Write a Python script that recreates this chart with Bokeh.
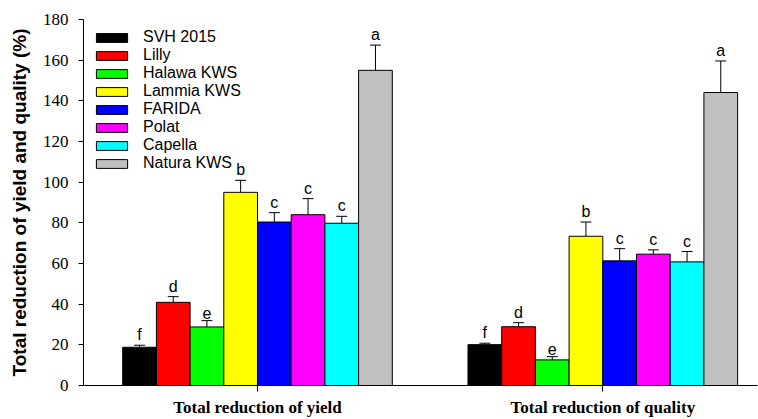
from bokeh.plotting import figure
from bokeh.models import (ColumnDataSource, Whisker, TeeHead, Legend, LegendItem,
                          FixedTicker, Range1d)
from bokeh.core.properties import value
from bokeh.embed import file_html
from bokeh.resources import INLINE

# ---------------- data ----------------
cultivars = ["SVH 2015", "Lilly", "Halawa KWS", "Lammia KWS",
             "FARIDA", "Polat", "Capella", "Natura KWS"]
colors = ["#000000", "#FF0000", "#00FF00", "#FFFF00",
          "#0000FF", "#FF00FF", "#00FFFF", "#C0C0C0"]
groups = ["Total reduction of yield", "Total reduction of quality"]
group_pos = [1, 2]

yield_mean = [18.8, 40.9, 28.8, 95.0, 80.4, 84.0, 79.8, 155.0]
yield_err = [1.0, 2.8, 3.1, 5.9, 4.6, 7.9, 3.4, 12.4]
yield_letters = ["f", "d", "e", "b", "c", "c", "c", "a"]

quality_mean = [20.1, 28.9, 12.6, 73.4, 61.3, 64.6, 60.8, 144.1]
quality_err = [0.7, 2.0, 1.6, 7.0, 6.0, 2.1, 5.1, 15.5]
quality_letters = ["f", "d", "e", "b", "c", "c", "c", "a"]

y_ticks = [0, 20, 40, 60, 80, 100, 120, 140, 160, 180]

# ---------------- figure ----------------
bar_w = 0.0976
p = figure(width=758, height=419, output_backend="svg", toolbar_location=None,
           x_range=Range1d(0.4961, 2.448), y_range=Range1d(0, 180),
           min_border_left=83, min_border_right=1, min_border_top=19,
           min_border_bottom=33)
p.outline_line_color = None
p.grid.visible = False
p.background_fill_color = "white"
p.border_fill_color = "white"

items = []
for i, name in enumerate(cultivars):
    off = (i - 3.5) * bar_w
    xs = [g + off for g in group_pos]
    tops = [yield_mean[i], quality_mean[i]]
    uppers = [yield_mean[i] + yield_err[i], quality_mean[i] + quality_err[i]]
    letters = [yield_letters[i], quality_letters[i]]
    src = ColumnDataSource(dict(x=xs, top=tops, upper=uppers, letter=letters))
    r = p.vbar(x="x", top="top", bottom=0, width=bar_w, source=src,
               fill_color=colors[i], line_color="black", line_width=1)
    items.append(LegendItem(label=name, renderers=[r]))
    w = Whisker(base="x", lower="top", upper="upper", source=src,
                lower_head=None,
                upper_head=TeeHead(size=11, line_color="black", line_width=1),
                line_color="black", line_width=1)
    p.add_layout(w)
    p.text(x="x", y="upper", text="letter", source=src, text_align="center",
           text_baseline="bottom", y_offset=-2,
           text_font=value("Liberation Sans"), text_font_size="16px",
           text_color="black")

legend = Legend(items=items, location="top_left", margin=0, padding=9,
                spacing=0, glyph_width=39, glyph_height=11, label_height=18,
                label_standoff=12, label_text_font="Liberation Sans",
                label_text_font_size="16px", label_text_color="black",
                background_fill_alpha=0, border_line_alpha=0)
p.add_layout(legend, "center")

# y axis
ya = p.yaxis[0]
ya.ticker = FixedTicker(ticks=y_ticks)
ya.minor_tick_line_color = None
ya.major_tick_in = 0
ya.major_tick_out = 5
ya.major_label_standoff = 10
ya.major_label_text_font = "Liberation Serif"
ya.major_label_text_font_size = "17px"
ya.major_label_text_color = "black"
ya.axis_line_color = "black"
ya.major_tick_line_color = "black"
ya.axis_label = "Total reduction of yield and quality (%)"
ya.axis_label_text_font = "Liberation Sans"
ya.axis_label_text_font_style = "bold"
ya.axis_label_text_font_size = "19px"
ya.axis_label_text_color = "black"
ya.axis_label_standoff = 10

# x axis
xa = p.xaxis[0]
xa.ticker = FixedTicker(ticks=group_pos)
xa.major_label_overrides = {g: lab for g, lab in zip(group_pos, groups)}
xa.minor_tick_line_color = None
xa.major_tick_in = 0
xa.major_tick_out = 6
xa.major_label_standoff = 6
xa.major_label_text_font = "Liberation Serif"
xa.major_label_text_font_style = "bold"
xa.major_label_text_font_size = "17px"
xa.major_label_text_color = "black"
xa.axis_line_color = "black"
xa.major_tick_line_color = "black"

open("out.html", "w").write(file_html(p, INLINE))
